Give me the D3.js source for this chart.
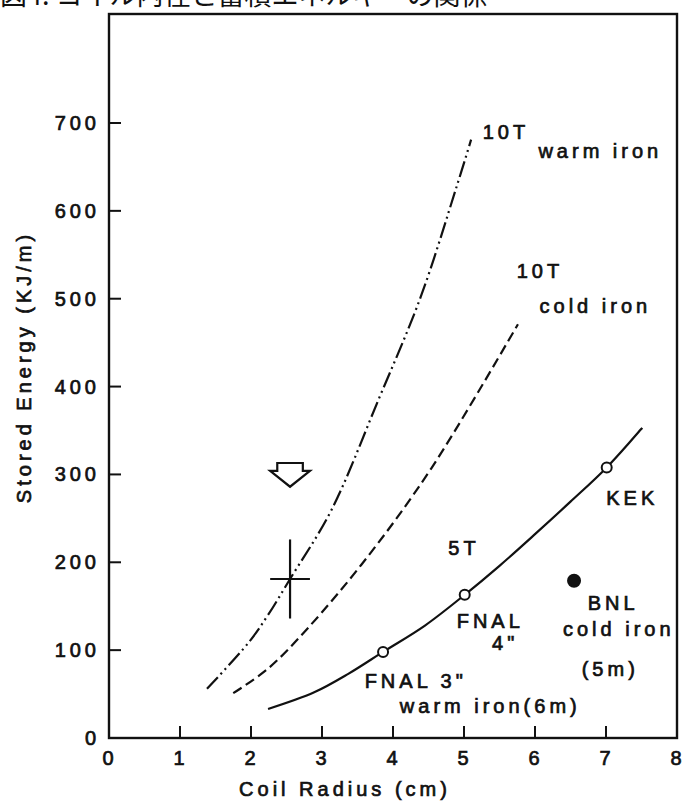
<!DOCTYPE html>
<html>
<head>
<meta charset="utf-8">
<script src="https://cdn.jsdelivr.net/npm/d3@7/dist/d3.min.js"></script>
<style>
  body { margin: 0; background: #fff; }
  svg text { font-family: 'Liberation Sans', Arial, sans-serif; fill: #111; }
</style>
</head>
<body>
<svg id="chart" width="683" height="801"></svg>
<script>
// values ----------------------------------------------------------------
const xTicks = [0, 1, 2, 3, 4, 5, 6, 7, 8];
const yTicks = [0, 100, 200, 300, 400, 500, 600, 700];

// [coil radius (cm), stored energy (KJ/m)]
const warmIron10T = [[1.38, 56], [1.96, 108], [2.24, 140], [2.55, 181],
  [3.13, 259], [3.79, 384], [4.39, 502], [4.89, 626], [5.10, 681]];
const coldIron10T = [[1.75, 51], [2.24, 79], [2.80, 125], [3.62, 204],
  [4.54, 307], [5.76, 471]];
const field5T = [[2.24, 33], [2.89, 52], [3.37, 73], [3.86, 98],
  [4.45, 128], [5.01, 163], [5.5, 196], [6.0, 232], [6.5, 269],
  [7.01, 308], [7.51, 353]];

// measured magnets
const magnetNames = ['FNAL 3"', 'FNAL 4"', 'KEK', 'BNL'];
const magnetRadius = [3.86, 5.01, 7.01, 6.55];
const magnetEnergy = [98, 163, 308, 179];
const magnetFilled = [false, false, false, true];

// design point with its spread, and the arrow above it
const design = {r: 2.55, e: 181, dr: 0.28, de: 45};
const arrowR = [2.37, 2.73, 2.73, 2.83, 2.55, 2.27, 2.37];
const arrowE = [313, 313, 304, 304, 286, 304, 304];

// text labels placed in data units (centre, baseline)
const labels = [
  {t: '10T', r: 5.59, e: 682},
  {t: 'warm iron', r: 6.92, e: 660},
  {t: '10T', r: 6.07, e: 524},
  {t: 'cold iron', r: 6.85, e: 484},
  {t: '5T', r: 5.0, e: 208},
  {t: 'KEK', r: 7.37, e: 265},
  {t: 'FNAL', r: 5.37, e: 125},
  {t: '4"', r: 5.58, e: 100},
  {t: 'BNL', r: 7.10, e: 146},
  {t: 'cold iron', r: 7.18, e: 116},
  {t: '(5m)', r: 7.06, e: 71},
  {t: 'FNAL 3"', r: 4.32, e: 57},
  {t: 'warm iron(6m)', r: 5.37, e: 28.5},
];

const title = '図4. コイル内径と蓄積エネルギーの関係';

// layout ------------------------------------------------------------------
const svg = d3.select('#chart');
const x = d3.scaleLinear().domain([0, 8]).range([109, 677]);
const y = d3.scaleLinear().domain([0, 700]).range([738, 123]);
const frameTop = 14;

// title, mostly cut off by the top edge of the scan
svg.append('text')
    .attr('x', 0)
    .attr('y', 5)
    .style('font-family', "'Noto Sans CJK JP', sans-serif")
    .style('font-size', '27px')
    .text(title);

// frame
svg.append('rect')
    .attr('x', x(0))
    .attr('y', frameTop)
    .attr('width', x(8) - x(0))
    .attr('height', y(0) - frameTop)
    .attr('fill', 'none')
    .attr('stroke', '#111')
    .attr('stroke-width', 2.4);

// inward ticks
svg.append('g')
    .selectAll('line')
    .data(xTicks.slice(1, -1))
    .join('line')
    .attr('x1', (d) => x(d)).attr('x2', (d) => x(d))
    .attr('y1', y(0)).attr('y2', y(0) - 12)
    .attr('stroke', '#111').attr('stroke-width', 2);
svg.append('g')
    .selectAll('line')
    .data(yTicks.slice(1))
    .join('line')
    .attr('x1', x(0)).attr('x2', x(0) + 12)
    .attr('y1', (d) => y(d)).attr('y2', (d) => y(d))
    .attr('stroke', '#111').attr('stroke-width', 2);

// scanned lettering is heavy and widely spaced
const tickFont = (sel) => sel
    .style('font-size', '20px')
    .style('letter-spacing', '4px')
    .style('stroke', '#111')
    .style('stroke-width', '0.7px');

svg.append('g')
    .selectAll('text')
    .data(xTicks)
    .join('text')
    .attr('x', (d) => x(d) + 1)
    .attr('y', 765)
    .attr('text-anchor', 'middle')
    .call(tickFont)
    .text((d) => d);
svg.append('g')
    .selectAll('text')
    .data(yTicks)
    .join('text')
    .attr('x', 100)
    .attr('y', (d) => y(d) + 7)
    .attr('text-anchor', 'end')
    .call(tickFont)
    .text((d) => d);

// axis titles
svg.append('text')
    .attr('x', 345)
    .attr('y', 796)
    .attr('text-anchor', 'middle')
    .call(tickFont)
    .text('Coil Radius (cm)');
svg.append('text')
    .attr('transform', 'translate(31,367) rotate(-90)')
    .attr('text-anchor', 'middle')
    .call(tickFont)
    .text('Stored Energy (KJ/m)');

// curves
const line = d3.line()
    .x((d) => x(d[0]))
    .y((d) => y(d[1]))
    .curve(d3.curveCatmullRom.alpha(0.5));

const curves = [
  {pts: warmIron10T, dash: '16,4,2,4,2,4'},
  {pts: coldIron10T, dash: '10,5'},
  {pts: field5T, dash: null},
];
svg.append('g')
    .selectAll('path')
    .data(curves)
    .join('path')
    .attr('d', (d) => line(d.pts))
    .attr('fill', 'none')
    .attr('stroke', '#111')
    .attr('stroke-width', 2.2)
    .attr('stroke-dasharray', (d) => d.dash);

// design point cross
svg.append('g')
    .attr('stroke', '#111')
    .attr('stroke-width', 2.2)
    .call((g) => g.append('line')
        .attr('x1', x(design.r)).attr('x2', x(design.r))
        .attr('y1', y(design.e + design.de))
        .attr('y2', y(design.e - design.de)))
    .call((g) => g.append('line')
        .attr('x1', x(design.r - design.dr))
        .attr('x2', x(design.r + design.dr))
        .attr('y1', y(design.e)).attr('y2', y(design.e)));

// open arrow pointing down at it
svg.append('path')
    .attr('d', d3.line()(arrowR.map((r, i) => [x(r), y(arrowE[i])])) + 'Z')
    .attr('fill', '#fff')
    .attr('stroke', '#111')
    .attr('stroke-width', 2.2)
    .attr('stroke-linejoin', 'miter');

// magnets
svg.append('g')
    .selectAll('circle')
    .data(magnetNames)
    .join('circle')
    .attr('cx', (d, i) => x(magnetRadius[i]))
    .attr('cy', (d, i) => y(magnetEnergy[i]))
    .attr('r', (d, i) => magnetFilled[i] ? 6 : 5)
    .attr('fill', (d, i) => magnetFilled[i] ? '#111' : '#fff')
    .attr('stroke', '#111')
    .attr('stroke-width', 2);

// annotations
svg.append('g')
    .selectAll('text')
    .data(labels)
    .join('text')
    .attr('x', (d) => x(d.r))
    .attr('y', (d) => y(d.e))
    .attr('text-anchor', 'middle')
    .call(tickFont)
    .text((d) => d.t);
</script>
</body>
</html>
